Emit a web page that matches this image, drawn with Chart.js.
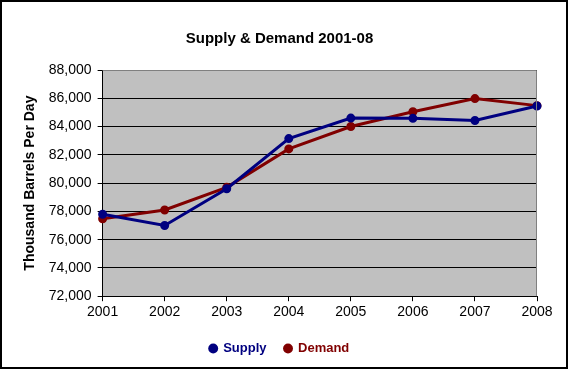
<!DOCTYPE html>
<html>
<head>
<meta charset="utf-8">
<script src="https://cdn.jsdelivr.net/npm/chart.js@4.4.0/dist/chart.umd.min.js"></script>
<style>
html,body{margin:0;padding:0;background:#fff;}
#wrap{width:569px;height:370px;position:relative;}
</style>
</head>
<body>
<div id="wrap"><canvas id="c" width="569" height="370"></canvas></div>
<script>
const years = ["2001","2002","2003","2004","2005","2006","2007","2008"];
const supply = [77800, 77000, 79600, 83150, 84600, 84580, 84430, 85450];
const demand = [77480, 78100, 79700, 82420, 84000, 85050, 85980, 85480];
const yMin = 72000, yMax = 88000, yStep = 2000;

const FONT = 'Arial, "Liberation Sans", sans-serif';

const bgPlugin = {
  id: 'bg',
  beforeDraw(chart) {
    const ctx = chart.ctx, a = chart.chartArea;
    ctx.save();
    ctx.fillStyle = '#fff';
    ctx.fillRect(0, 0, chart.width, chart.height);
    ctx.fillStyle = '#C0C0C0';
    ctx.fillRect(a.left, a.top, a.right - a.left, a.bottom - a.top);
    ctx.restore();
  },
  afterDraw(chart) {
    const ctx = chart.ctx, a = chart.chartArea;
    ctx.save();
    ctx.strokeStyle = '#808080';
    ctx.lineWidth = 1;
    ctx.beginPath();
    ctx.moveTo(a.left, a.top + 0.5);
    ctx.lineTo(a.right - 0.5, a.top + 0.5);
    ctx.lineTo(a.right - 0.5, a.bottom);
    ctx.stroke();
    ctx.strokeStyle = '#000';
    ctx.lineWidth = 2;
    ctx.strokeRect(1, 1, chart.width - 3, chart.height - 3);
    ctx.restore();
  }
};

new Chart(document.getElementById('c'), {
  type: 'line',
  data: {
    labels: years,
    datasets: [
      { label: 'Supply', data: supply, borderColor: '#000080', backgroundColor: '#000080',
        borderWidth: 3, pointRadius: 3, pointStyle: 'circle', tension: 0 },
      { label: 'Demand', data: demand, borderColor: '#800000', backgroundColor: '#800000',
        borderWidth: 3, pointRadius: 3, pointStyle: 'circle', tension: 0 }
    ]
  },
  options: {
    responsive: false,
    animation: false,
    layout: { padding: { left: 22, right: 32, top: 10, bottom: 5 } },
    plugins: {
      title: {
        display: true, text: 'Supply & Demand 2001-08', color: '#000',
        font: { family: FONT, size: 15, weight: 'bold' },
        padding: { top: 20, bottom: 22 }
      },
      legend: {
        position: 'bottom',
        labels: {
          usePointStyle: true, pointStyle: 'circle', boxWidth: 7, boxHeight: 7, padding: 18,
          font: { family: FONT, size: 13, weight: 'bold' },
          generateLabels(chart) {
            return chart.data.datasets.map((d, i) => ({
              text: d.label, fillStyle: d.borderColor, strokeStyle: d.borderColor,
              fontColor: d.borderColor, lineWidth: 0, pointStyle: 'circle', datasetIndex: i, hidden: false
            }));
          }
        }
      },
      tooltip: { enabled: false }
    },
    scales: {
      x: {
        offset: false,
        grid: { drawOnChartArea: false, drawTicks: true, tickLength: 5, color: '#000' },
        border: { color: '#000', width: 1 },
        ticks: { color: '#000', font: { family: FONT, size: 14 }, padding: 3 }
      },
      y: {
        min: yMin, max: yMax,
        grid: { color: '#000', tickLength: 5, lineWidth: 1 },
        border: { color: '#000', width: 1 },
        ticks: {
          stepSize: yStep, color: '#000', padding: 6,
          font: { family: FONT, size: 14 },
          callback: v => v.toLocaleString('en-US')
        },
        title: {
          display: true, text: 'Thousand Barrels Per Day', color: '#000',
          font: { family: FONT, size: 14, weight: 'bold' },
          padding: { top: 0, bottom: 4 }
        }
      }
    }
  },
  plugins: [bgPlugin]
});
</script>
</body>
</html>
